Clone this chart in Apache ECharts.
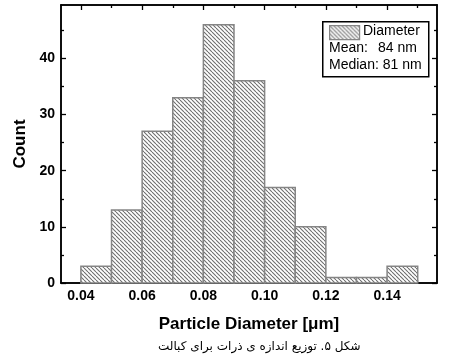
<!DOCTYPE html>
<html>
<head>
<meta charset="utf-8">
<script src="https://cdn.jsdelivr.net/npm/echarts@6/dist/echarts.min.js"></script>
<style>html,body{margin:0;padding:0;background:#fff}#c{width:450px;height:360px}</style>
</head>
<body>
<div id="c"></div>
<script>
// Histogram bins (µm) and counts
var binStarts = [0.04, 0.05, 0.06, 0.07, 0.08, 0.09, 0.10, 0.11, 0.12, 0.13, 0.14];
var binWidth = 0.01;
var counts = [3, 13, 27, 33, 46, 36, 17, 10, 1, 1, 3];
var xMajorTicks = [0.04, 0.06, 0.08, 0.10, 0.12, 0.14];
var xMinorTicks = [0.05, 0.07, 0.09, 0.11, 0.13, 0.15];
var yMajorTicks = [0, 10, 20, 30, 40];
var yMinorTicks = [5, 15, 25, 35, 45];
var seriesName = 'Diameter';
var legendLines = ['Mean:', '84 nm', 'Median: 81 nm'];
var xTitle = 'Particle Diameter [\u03bcm]';
var yTitle = 'Count';
var caption = 'شکل ۵. توزیع اندازه ی ذرات برای کبالت';

function hatch() {
  var s = 4;
  var cv = document.createElement('canvas');
  cv.width = s; cv.height = s;
  var ctx = cv.getContext('2d');
  ctx.fillStyle = '#ffffff';
  ctx.fillRect(0, 0, s, s);
  ctx.strokeStyle = '#6e6e6e';
  ctx.lineWidth = 1.1;
  [-s, 0, s].forEach(function (k) {
    ctx.beginPath();
    ctx.moveTo(k, 0);
    ctx.lineTo(k + s, s);
    ctx.stroke();
  });
  return {image: cv, repeat: 'repeat'};
}
var pat = hatch();

var data = binStarts.map(function (b, i) { return [b, b + binWidth, counts[i]]; });

var chart = echarts.init(document.getElementById('c'), null, {renderer: 'canvas'});
var XMIN = 0.0335, XMAX = 0.1563, YMIN = 0, YMAX = 49.5;
var lineStyle = {color: '#000', width: 1.5};
function xAx(pos, ticks, len, labels) {
  return {
    type: 'value', position: pos, min: XMIN, max: XMAX, offset: 0,
    axisLine: {show: true, onZero: false, lineStyle: lineStyle},
    axisTick: {show: true, inside: true, length: len, customValues: ticks, lineStyle: {color: '#000', width: 1.3}},
    axisLabel: labels ? {show: true, customValues: ticks, margin: 6, fontFamily: 'Liberation Sans', fontWeight: 'bold', fontSize: 14, color: '#000',
      formatter: function (v) { return v.toFixed(2); }} : {show: false},
    splitLine: {show: false},
    name: labels ? xTitle : '', nameLocation: 'middle', nameGap: 33,
    nameTextStyle: {fontFamily: 'Liberation Sans', fontWeight: 'bold', fontSize: 17, color: '#000'}
  };
}
function yAx(pos, ticks, len, labels) {
  return {
    type: 'value', position: pos, min: YMIN, max: YMAX, offset: 0,
    axisLine: {show: true, onZero: false, lineStyle: lineStyle},
    axisTick: {show: true, inside: true, length: len, customValues: ticks, lineStyle: {color: '#000', width: 1.3}},
    axisLabel: labels ? {show: true, customValues: ticks, margin: 6, fontFamily: 'Liberation Sans', fontWeight: 'bold', fontSize: 14, color: '#000'} : {show: false},
    splitLine: {show: false},
    name: labels ? yTitle : '', nameLocation: 'middle', nameGap: 29, nameRotate: 90,
    nameTextStyle: {fontFamily: 'Liberation Sans', fontWeight: 'bold', fontSize: 17, color: '#000'}
  };
}

chart.setOption({
  animation: false,
  backgroundColor: '#fff',
  grid: {left: 61, right: 13, top: 5, bottom: 77, containLabel: false},
  xAxis: [xAx('bottom', xMajorTicks, 5, true), xAx('bottom', xMinorTicks, 3, false),
          xAx('top', xMajorTicks, 5, false), xAx('top', xMinorTicks, 3, false)],
  yAxis: [yAx('left', yMajorTicks, 5, true), yAx('left', yMinorTicks, 3, false),
          yAx('right', yMajorTicks, 5, false), yAx('right', yMinorTicks, 3, false)],
  series: [{
    type: 'custom', name: seriesName, xAxisIndex: 0, yAxisIndex: 0,
    data: data,
    encode: {x: [0, 1], y: 2},
    renderItem: function (params, api) {
      var p0 = api.coord([api.value(0), api.value(2)]);
      var p1 = api.coord([api.value(1), 0]);
      return {
        type: 'rect',
        shape: {x: p0[0], y: p0[1], width: p1[0] - p0[0], height: p1[1] - p0[1]},
        style: {fill: pat, stroke: '#858585', lineWidth: 1.5}
      };
    }
  }],
  graphic: [
    {type: 'rect', left: 322, top: 21, shape: {width: 106, height: 55}, style: {fill: '#fff', stroke: '#000', lineWidth: 1.5}, z: 10},
    {type: 'rect', left: 329, top: 25, shape: {width: 30, height: 14}, style: {fill: pat, stroke: '#858585', lineWidth: 1.2}, z: 11},
    {type: 'text', left: 363, top: 24, style: {text: seriesName, font: '14px "Liberation Sans"', fill: '#000'}, z: 11},
    {type: 'text', left: 329, top: 41, style: {text: legendLines[0], font: '14px "Liberation Sans"', fill: '#000'}, z: 11},
    {type: 'text', left: 378, top: 41, style: {text: legendLines[1], font: '14px "Liberation Sans"', fill: '#000'}, z: 11},
    {type: 'text', left: 329, top: 58, style: {text: legendLines[2], font: '14px "Liberation Sans"', fill: '#000'}, z: 11},
    {type: 'text', left: 158, top: 341, style: {text: caption, font: '12px "DejaVu Sans"', fill: '#000'}, z: 11}
  ]
});
</script>
</body>
</html>
